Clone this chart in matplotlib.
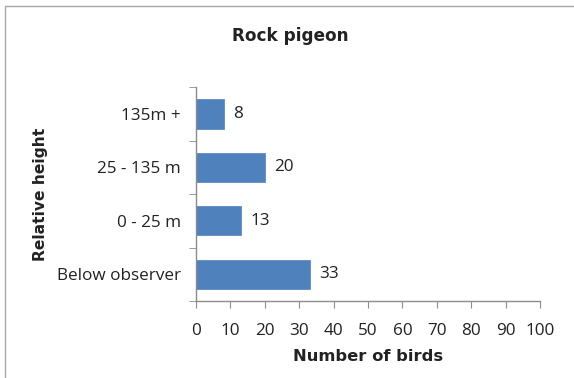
import matplotlib.pyplot as plt
from matplotlib.patches import Rectangle

# bird counts per height band (bottom to top)
heights = ["Below observer", "0 - 25 m", "25 - 135 m", "135m +"]
birds = [33, 13, 20, 8]

fig = plt.figure(figsize=(5.74, 3.78), dpi=100)
ax = fig.add_axes([0.3415, 0.2037, 0.5993, 0.566])

bars = ax.barh(range(len(heights)), birds, height=0.55, color="#4F81BD",
               edgecolor="#4F81BD", linewidth=0.5)
for b, v in zip(bars, birds):
    ax.text(v + 2.8, b.get_y() + b.get_height() / 2, str(v),
            va="center", ha="left", fontsize=12.3, color="#222222",
            family="Open Sans")

ax.set_xlim(0, 100)
ax.set_ylim(-0.5, 3.5)
ax.set_xticks(range(0, 101, 10))
ax.set_yticks(range(len(heights)))
ax.set_yticklabels(heights)
ax.set_yticks([i - 0.5 for i in range(len(heights) + 1)], minor=True)

for s in ["top", "right"]:
    ax.spines[s].set_visible(False)
for s in ["left", "bottom"]:
    ax.spines[s].set_color("#8c8c8c")
    ax.spines[s].set_linewidth(1.0)

ax.tick_params(axis="y", which="major", length=0, pad=11)
ax.tick_params(axis="y", which="minor", length=5, color="#8c8c8c")
ax.tick_params(axis="x", length=5, color="#8c8c8c", pad=11)
for lab in ax.get_xticklabels() + ax.get_yticklabels():
    lab.set_fontsize(12.3)
    lab.set_family("Open Sans")
    lab.set_color("#222222")

ax.set_xlabel("Number of birds", fontsize=11.8, fontweight="bold",
              family="DejaVu Sans", labelpad=7, color="#222222")
ax.set_ylabel("Relative height", fontsize=11.2, fontweight="bold",
              family="DejaVu Sans", labelpad=6, color="#222222")
fig.text(0.505, 0.905, "Rock pigeon", ha="center", va="center",
         fontsize=12.2, fontweight="bold", family="DejaVu Sans",
         color="#222222")

# chart area border
fig.patches.append(Rectangle((5 / 574, -0.01), 1.0, 1 - 6 / 378 + 0.01,
                             transform=fig.transFigure, fill=False,
                             edgecolor="#a6a6a6", linewidth=1.0))

fig.savefig("out.png", dpi=100)
